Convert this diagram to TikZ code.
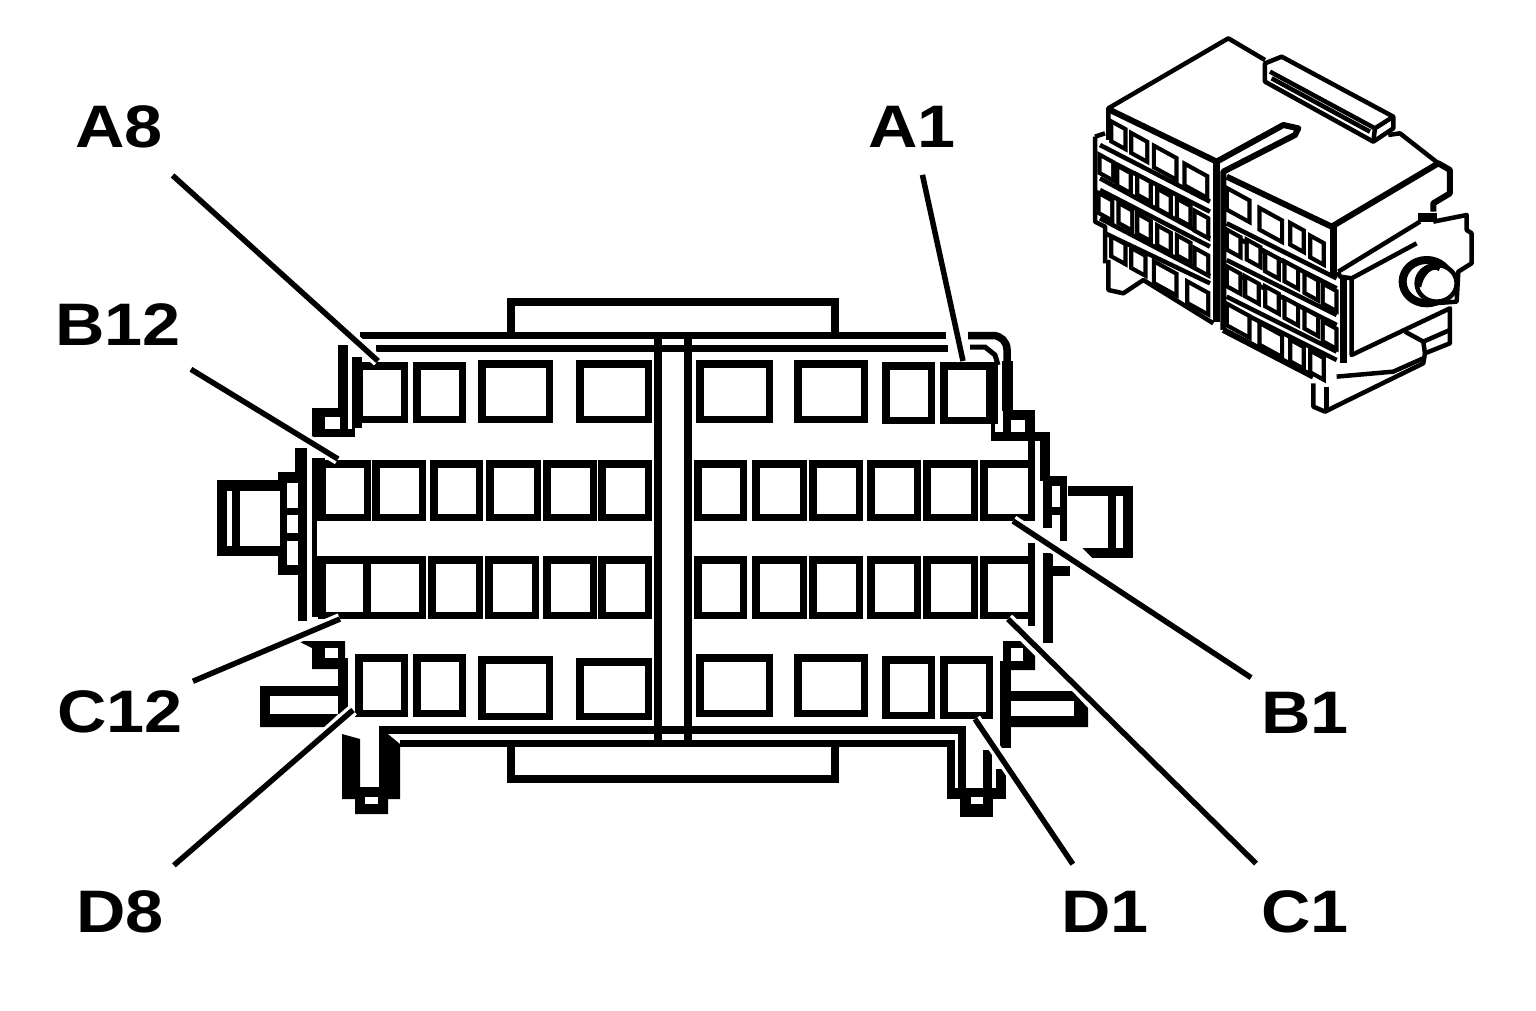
\documentclass[tikz,border=0pt]{standalone}
\usepackage{fontspec}
\setmainfont[FakeStretch=1.14]{Liberation Sans}
\usetikzlibrary{positioning,calc}
\tikzset{
ink/.style={draw=black,line width=7.5pt,miter limit=10},
thinink/.style={draw=black,line width=5pt},
solid block/.style={fill=black,draw=none},
gap/.style={fill=white,draw=none},
pin label/.style={inner xsep=10pt,inner ysep=27pt,font=\fontsize{60}{60}\selectfont\bfseries},
leader/.style={line width=5.5pt,preaction={draw=white,line width=12pt}},
iso/.style={draw=black,line width=4.5pt,line join=round},
isowindow/.style={fill=white,preaction={draw=black,line width=8.5pt,line join=miter}},
}
% cavity, given by its outer edges
\newcommand{\cavity}[4]{\draw[ink] (#1+3.75,#2+3.75) rectangle (#3-3.75,#4-3.75);}
% slanted window of the small view
\newcommand{\isowin}[4]{\path[isowindow] (#1,#2) -- ++(#3,#3*0.55) -- ++(0,#4) -- ++(-#3,-#3*0.55) -- cycle;}
\begin{document}
\begin{tikzpicture}[x=1pt,y=-1pt]
\useasboundingbox (0,0) rectangle (1536,1010);

% body lines
\draw[ink] (360,335.5) -- (946,335.5);
\draw[ink] (511,336) -- (511,302) -- (835,302) -- (835,336);
\draw[ink] (376,348.5) -- (948,348.5);
\draw[ink] (400,743.5) -- (951,743.5) -- (951,792);
\draw[ink] (383,790) -- (383,730) -- (962,730) -- (962,792);
\draw[ink] (511,744) -- (511,779) -- (835,779) -- (835,744);
\fill[solid block] (654,335) rectangle (662,747);
\fill[solid block] (684,335) rectangle (692,747);

% row A
\cavity{355}{362}{408}{423}
\cavity{413}{362}{466}{423}
\cavity{478}{360}{553}{423}
\cavity{576}{360}{652}{423}
\cavity{696}{360}{773}{423}
\cavity{794}{360}{868}{423}
\cavity{882}{362}{935}{424}
\cavity{940}{362}{993}{424}
\fill[solid block] (991,362) rectangle (998,424);
% row B
\cavity{318}{460}{371}{521}
\cavity{372}{460}{426}{521}
\cavity{430}{460}{483}{521}
\cavity{486}{460}{541}{521}
\cavity{543}{460}{597}{521}
\cavity{598}{460}{652}{521}
\cavity{694}{460}{747}{521}
\cavity{752}{460}{807}{521}
\cavity{809}{460}{863}{521}
\cavity{867}{460}{921}{521}
\cavity{923}{460}{978}{521}
\cavity{980}{460}{1035}{521}
% row C
\cavity{318}{556}{371}{619}
\cavity{363}{556}{426}{619}
\cavity{428}{556}{483}{619}
\cavity{485}{556}{539}{619}
\cavity{543}{556}{597}{619}
\cavity{598}{556}{652}{619}
\cavity{694}{556}{747}{619}
\cavity{752}{556}{807}{619}
\cavity{809}{556}{863}{619}
\cavity{867}{556}{921}{619}
\cavity{923}{556}{978}{619}
\cavity{980}{556}{1035}{619}
% row D
\cavity{355}{654}{408}{717}
\cavity{413}{654}{466}{717}
\cavity{478}{656}{553}{720}
\cavity{576}{658}{652}{720}
\cavity{696}{654}{773}{717}
\cavity{794}{654}{868}{717}
\cavity{882}{656}{935}{719}
\cavity{940}{656}{993}{719}

% left side
\fill[solid block] (312,458) rectangle (325,521);
\fill[solid block] (312,521) rectangle (317,556);
\fill[solid block] (312,556) rectangle (325,617);
\fill[solid block] (295,448) rectangle (307,481);
\fill[solid block] (300,481) rectangle (307,566);
\fill[solid block] (298,566) rectangle (307,621);
\fill[solid block] (278,472) rectangle (304,575);
\fill[gap] (287,483) rectangle (298,508);
\fill[gap] (287,515) rectangle (298,533);
\fill[gap] (287,541) rectangle (298,565);
\fill[solid block] (217,480) rectangle (280,556);
\fill[gap] (240,491) rectangle (280,546);
\fill[gap] (227,491) rectangle (232,546);
% upper left latch
\fill[solid block] (338,345) rectangle (348,409);
\fill[solid block] (352,357) rectangle (362,428);
\fill[solid block] (312,408) rectangle (355,437);
\fill[solid block] (338,409) rectangle (352,437);
\fill[gap] (325,417) rectangle (340,429);
\fill[gap] (348,362) rectangle (352,429);
% lower left latch
\fill[solid block] (298,641) -- (345,641) -- (345,669) -- (312,669) -- (312,648) -- cycle;
\fill[gap] (325,648) rectangle (338,658);
\fill[solid block] (338,658) rectangle (348,714);
\fill[solid block] (260,686) -- (338,686) -- (338,714) -- (325,727) -- (260,727) -- cycle;
\fill[gap] (270,696) rectangle (338,714);
% left foot
\fill[solid block] (342,734) -- (360,739) -- (360,787) -- (383,787) -- (383,730) -- (400,744) -- (400,799) -- (388,799) -- (388,814) -- (355,814) -- (355,799) -- (342,799) -- cycle;
\fill[gap] (365,797) rectangle (378,804);

% right side
\draw[ink] (968,335.5) -- (993,335.5) arc[start angle=-90,end angle=0,radius=14] -- (1007,411);
\draw[thinink] (970,347) -- (985,347) -- (995,355) -- (998,365);
\fill[solid block] (1002,361) rectangle (1013,411);
\fill[solid block] (1003,410) rectangle (1011,432);
\fill[solid block] (1003,410) rectangle (1030,420);
\fill[solid block] (1025,410) rectangle (1035,441);
\fill[solid block] (991,432) rectangle (1035,441);
\fill[solid block] (991,420) rectangle (995,441);
\fill[solid block] (1028,441) rectangle (1035,471);
\fill[solid block] (1035,432) rectangle (1050,441);
\fill[solid block] (1040,432) rectangle (1050,481);
\fill[solid block] (1043,476) rectangle (1067,541);
\fill[gap] (1052,486) rectangle (1060,507);
\fill[gap] (1052,515) rectangle (1060,541);
\fill[gap] (1043,528) rectangle (1052,541);
\fill[solid block] (1068,486) rectangle (1133,558);
\fill[gap] (1068,496) rectangle (1108,548);
\fill[gap] (1068,548) -- (1082,548) -- (1092,558) -- (1068,558) -- cycle;
\fill[gap] (1116,496) rectangle (1123,548);
\fill[solid block] (1028,543) rectangle (1035,626);
\fill[solid block] (1043,553) rectangle (1053,643);
\fill[solid block] (1053,566) rectangle (1070,576);
% lower right latch
\fill[solid block] (1003,641) -- (1020,641) -- (1035,656) -- (1035,670) -- (1003,670) -- cycle;
\fill[gap] (1011,648) rectangle (1023,661);
\fill[solid block] (1000,661) rectangle (1011,748);
\fill[solid block] (1011,691) -- (1072,691) -- (1088,708) -- (1088,727) -- (1011,727) -- cycle;
\fill[gap] (1011,701) -- (1074,701) -- (1074,716) -- (1011,716) -- cycle;
% right foot
\fill[solid block] (947,788) rectangle (1006,799);
\fill[solid block] (960,799) rectangle (993,817);
\fill[gap] (971,797) rectangle (983,804);
\fill[solid block] (983,750) rectangle (992,788);
\fill[solid block] (996,769) rectangle (1006,788);

% small view
\begin{scope}[shift={(1080pt,-30pt)},x=0.3333pt,y=-0.3333pt]
% outline and top faces
\draw[iso] (85,330) -- (85,235) -- (445,25) -- (555,90);
\draw[iso,line width=6pt] (90,240) -- (410,395) -- (610,285) -- (655,295) -- (645,315) -- (430,425) -- (430,900);
\draw[iso,line width=7pt] (410,395) -- (410,875);
\draw[iso,line width=6pt] (440,440) -- (755,590) -- (1075,400) -- (1110,420) -- (1110,490) -- (1060,520) -- (1060,545);
\draw[iso] (775,725) -- (1020,575);
\draw[iso] (775,725) -- (780,740) -- (815,745) -- (1010,640);
\draw[iso] (605,80) -- (940,260) -- (940,295) -- (880,335) -- (555,155) -- (555,100) -- cycle;
\draw[iso] (570,125) -- (885,295) -- (940,260);
\draw[iso] (885,295) -- (880,335);
\draw[iso] (575,145) -- (870,305);
\draw[iso] (925,315) -- (960,310) -- (1075,400);
\draw[iso,line width=7pt] (760,590) -- (760,740);
\draw[iso,line width=7pt] (790,740) -- (790,1000);
% left face
\draw[iso] (45,320) -- (45,575) -- (75,590) -- (75,700);
\draw[iso] (45,320) -- (75,310);
\draw[iso] (60,345) -- (390,515);
\draw[iso] (60,378) -- (390,545);
\draw[iso] (60,445) -- (390,625);
\draw[iso] (60,480) -- (390,650);
\draw[iso] (60,565) -- (390,738);
\draw[iso] (75,610) -- (390,760);
\draw[iso] (85,690) -- (85,780) -- (130,790) -- (190,750) -- (400,880);
\isowin{100}{285}{30}{45}
\isowin{160}{320}{35}{45}
\isowin{228}{358}{55}{50}
\isowin{320}{412}{55}{50}
\isowin{65}{385}{28}{40}
\isowin{118}{418}{28}{45}
\isowin{178}{445}{28}{45}
\isowin{238}{487}{28}{45}
\isowin{297}{517}{28}{45}
\isowin{350}{553}{28}{45}
\isowin{62}{500}{28}{45}
\isowin{122}{530}{28}{45}
\isowin{178}{562}{28}{45}
\isowin{238}{597}{28}{45}
\isowin{297}{627}{28}{45}
\isowin{350}{665}{28}{45}
\isowin{100}{630}{30}{45}
\isowin{160}{665}{30}{45}
\isowin{228}{705}{55}{50}
\isowin{328}{765}{50}{50}
% right face
\draw[iso] (440,580) -- (770,745);
\draw[iso] (440,608) -- (770,775);
\draw[iso] (440,690) -- (770,855);
\draw[iso] (440,718) -- (770,885);
\draw[iso] (440,800) -- (770,965);
\draw[iso] (440,825) -- (770,990);
\draw[iso,line width=6pt] (430,900) -- (700,1040);
\isowin{447}{485}{55}{50}
\isowin{545}{545}{55}{50}
\isowin{637}{590}{28}{50}
\isowin{697}{628}{28}{50}
\isowin{447}{610}{28}{45}
\isowin{507}{640}{28}{45}
\isowin{562}{675}{28}{45}
\isowin{620}{705}{28}{45}
\isowin{680}{740}{28}{45}
\isowin{735}{772}{28}{45}
\isowin{447}{720}{28}{45}
\isowin{502}{750}{28}{45}
\isowin{562}{780}{28}{45}
\isowin{620}{815}{28}{45}
\isowin{680}{847}{28}{45}
\isowin{735}{885}{28}{45}
\isowin{447}{832}{55}{50}
\isowin{545}{890}{55}{50}
\isowin{637}{940}{28}{50}
\isowin{697}{973}{28}{50}
% end with the knob
\draw[iso] (815,745) -- (815,975) -- (1110,835) -- (1110,940) -- (1035,970) -- (1030,1000) -- (775,1125) -- (735,1145) -- (700,1130) -- (700,1060);
\draw[iso] (975,905) -- (1030,935) -- (1110,900);
\draw[iso] (1030,935) -- (1035,970);
\draw[iso] (770,1040) -- (940,1025) -- (1030,985);
\draw[iso] (740,1070) -- (740,1145);
\draw[iso] (1060,575) -- (1160,555) -- (1160,600) -- (1175,610) -- (1175,700) -- (1135,725) -- (1130,815) -- (1060,820);
\fill[solid block] (1015,550) rectangle (1070,575);
\draw[iso,fill=white,line width=8pt] (1040,755) ellipse[x radius=72,y radius=65];
\draw[iso,fill=white] (1070,760) ellipse[x radius=60,y radius=55];
\draw[iso,line width=6pt] (1015,770) .. controls (1025,720) and (1060,700) .. (1080,715);
\end{scope}

% pin labels and leaders
\node[pin label] (a8) at (119,127) {A8};
\node[pin label] (a1) at (912,127) {A1};
\node[pin label] (b12) at (118,325) {B12};
\node[pin label] (c12) at (120,712) {C12};
\node[pin label] (b1) at (1305,713) {B1};
\node[pin label] (d8) at (120,912) {D8};
\node[pin label] (d1) at (1105,912) {D1};
\node[pin label] (c1) at (1305,912) {C1};
\coordinate (a8 pin) at (378,361);
\coordinate (a1 pin) at (963,361);
\coordinate (b12 pin) at (338,459);
\coordinate (c12 pin) at (340,619);
\coordinate (b1 pin) at (1013,521);
\coordinate (d8 pin) at (353,710);
\coordinate (d1 pin) at (975,719);
\coordinate (c1 pin) at (1008,619);
\draw[leader] (a8) -- (a8 pin);
\draw[leader] (a1) -- (a1 pin);
\draw[leader] (b12) -- (b12 pin);
\draw[leader] (c12) -- (c12 pin);
\draw[leader] (b1) -- (b1 pin);
\draw[leader] (d8) -- (d8 pin);
\draw[leader] (d1) -- (d1 pin);
\draw[leader] (c1) -- (c1 pin);
\end{tikzpicture}
\end{document}
